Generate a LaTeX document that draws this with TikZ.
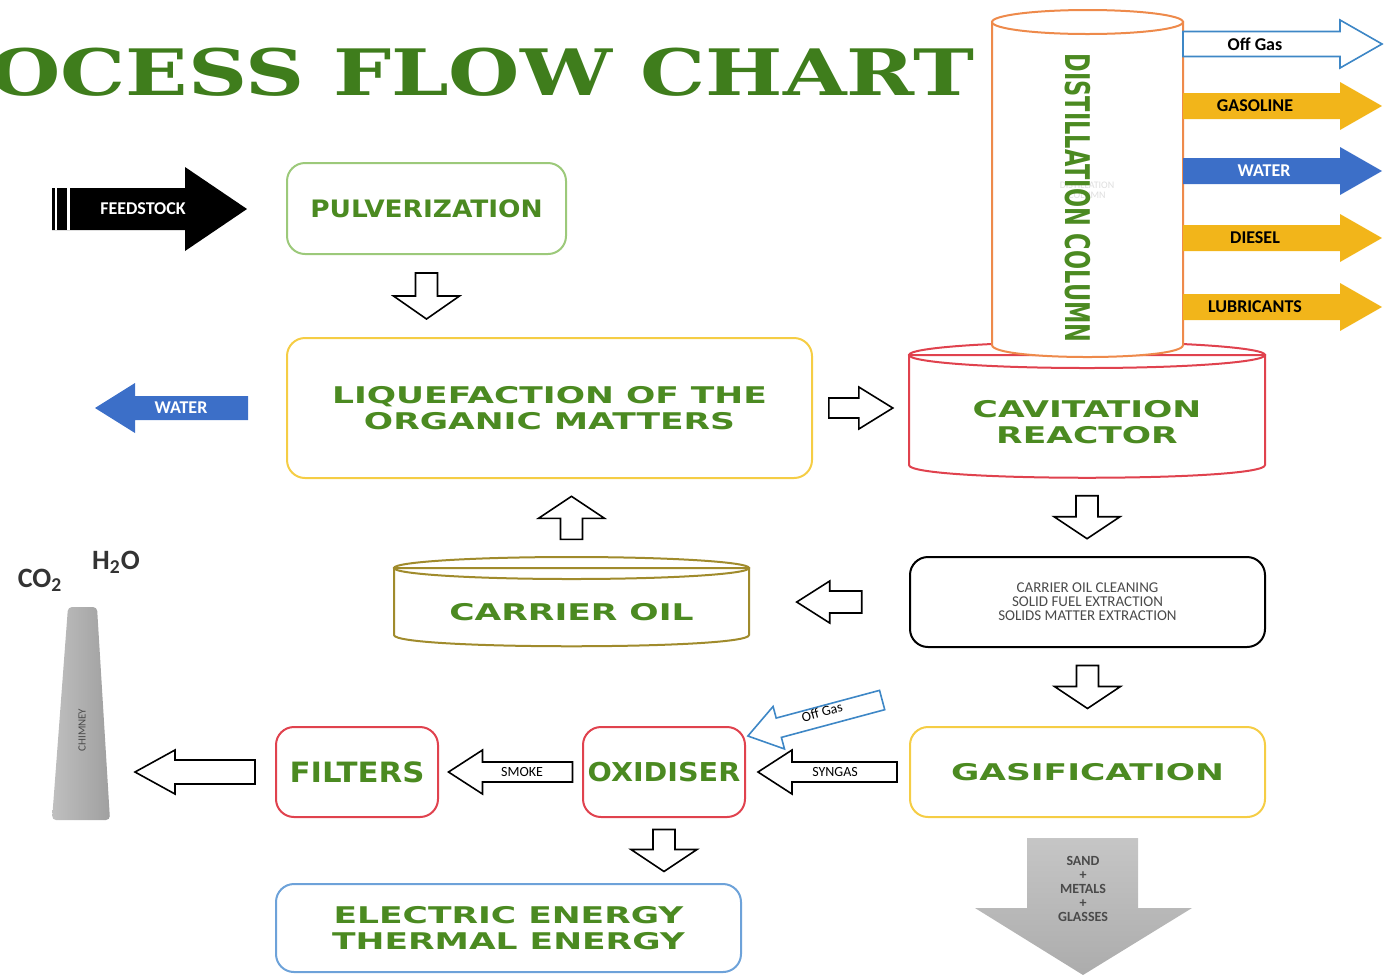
\documentclass[tikz,border=0pt]{standalone}
\usepackage{fontspec}
\setmainfont{Carlito}
\newfontfamily\titlefont[FakeStretch=1.28]{DejaVu Serif}
\newfontfamily\labelfont[FakeStretch=1.5]{DejaVu Sans}
\newfontfamily\labelfontb[FakeStretch=1.1]{DejaVu Sans}
\newfontfamily\columnfont[FakeStretch=0.66]{DejaVu Sans}
\usepackage{tikz}
\usetikzlibrary{positioning}
\definecolor{leaf}{HTML}{4B8A21}
\definecolor{titlegreen}{HTML}{3F7D1C}
\definecolor{pulvgreen}{HTML}{9CC97A}
\definecolor{boxyellow}{HTML}{F5CD45}
\definecolor{cred}{HTML}{E0424E}
\definecolor{colorange}{HTML}{EE8A4B}
\definecolor{olive}{HTML}{A08B2C}
\definecolor{energyblue}{HTML}{6DA2D9}
\definecolor{gold}{HTML}{F2B51A}
\definecolor{arrowblue}{HTML}{3C6FC8}
\definecolor{gasblue}{HTML}{3E87C6}
\definecolor{inkgray}{HTML}{4A4A4A}
\tikzset{
  pics/blockarrow/.style args={#1/#2/#3/#4}{code={
    \path[pic actions] (-#1/2,-#2) -- (#1/2-#4,-#2) -- (#1/2-#4,-#3) -- (#1/2,0)
      -- (#1/2-#4,#3) -- (#1/2-#4,#2) -- (-#1/2,#2) -- cycle;
  }},
}

\begin{document}
\begin{tikzpicture}[x=0.5pt, y=-0.5pt,
    box/.style={draw, line width=1pt, rounded corners=9pt, align=center},
    lbl/.style={font=\labelfont\bfseries\fontsize{11.5}{13}\selectfont, text=leaf, align=center},
    lblb/.style={font=\labelfontb\bfseries\fontsize{#1}{#1}\selectfont},
    tag/.style={font=\bfseries\fontsize{9}{9}\selectfont},
    tiny/.style={font=\fontsize{7.5}{7}\selectfont, align=center},
    hollow/.style={draw=black, fill=white, line width=0.8pt},
  ]
  \useasboundingbox (0,0) rectangle (1390,976);
  \clip (0,0) rectangle (1390,976);
  % Title
  \node[anchor=base east, inner sep=0pt, text=titlegreen,
    font=\titlefont\bfseries\fontsize{32}{32}\selectfont] (title) at (975,95) {PROCESS FLOW CHART};
  % Cavitation reactor (drawn below the column)
  \filldraw[draw=cred, fill=white, line width=1pt] (909,355) -- (909,465)
    .. controls (909,482) and (1265,482) .. (1265,465) -- (1265,355) -- cycle;
  \draw[cred, line width=1pt] (1087,355) ellipse [x radius=178, y radius=13];
  \node[lbl, minimum width=178pt, minimum height=56pt] (reactor) at (1087,422) {CAVITATION\\REACTOR};
  % Distillation column
  \filldraw[draw=colorange, fill=white, line width=1pt] (992,22) -- (992,345)
    .. controls (992,361) and (1183,361) .. (1183,345) -- (1183,22) -- cycle;
  \draw[colorange, line width=1pt, fill=white] (1087.5,22) ellipse [x radius=95.5, y radius=12];
  \node[tiny, text=gray!25, font=\fontsize{5}{5}\selectfont] (ghost) at (1087,190) {DISTILLATION\\COLUMN};
  \node[rotate=-90, text=leaf, font=\columnfont\bfseries\fontsize{17}{17}\selectfont] (column) at (1078,198) {DISTILLATION COLUMN};
  % Column outputs
  \pic[draw=gasblue, fill=white, line width=0.8pt] at (1282.5,44) {blockarrow=199/12.5/24/42};
  \node[tag] (offgas) at (1255,44) {Off Gas};
  \pic[fill=gold] at (1282.5,106) {blockarrow=199/13/24/42};
  \node[tag] (gasoline) at (1255,106) {GASOLINE};
  \pic[fill=arrowblue] at (1282.5,171) {blockarrow=199/13/24/42};
  \node[tag, text=white] (waterout) at (1264,171) {WATER};
  \pic[fill=gold] at (1282.5,238) {blockarrow=199/13/24/42};
  \node[tag] (diesel) at (1255,238) {DIESEL};
  \pic[fill=gold] at (1282.5,307) {blockarrow=199/13/24/42};
  \node[tag] (lubricants) at (1255,307) {LUBRICANTS};
  % Feedstock and water
  \pic[fill=black] at (149.5,209) {blockarrow=195/21/42/62};
  \draw[white, line width=1.2pt] (56,188) -- (56,230);
  \draw[white, line width=1.2pt] (68.5,188) -- (68.5,230);
  \node[tag, text=white] (feedstock) at (143,209) {FEEDSTOCK};
  \pic[fill=arrowblue, rotate=180] at (171.5,408) {blockarrow=153/12/25/40};
  \node[tag, text=white] (waterleft) at (181,408) {WATER};
  % Process boxes
  \node[box, lbl, lblb=12, draw=pulvgreen, minimum width=139.5pt, minimum height=45.5pt] (pulv) at (426.5,208.5) {PULVERIZATION};
  \node[box, lbl, draw=boxyellow, minimum width=262.5pt, minimum height=70pt] (liq) at (549.5,408)
    {LIQUEFACTION OF THE\\ORGANIC MATTERS};
  \node[box, tiny, draw=black, text=inkgray, minimum width=177.5pt, minimum height=45pt] (clean) at (1087.5,602)
    {CARRIER OIL CLEANING\\SOLID FUEL EXTRACTION\\SOLIDS MATTER EXTRACTION};
  \node[box, lbl, draw=boxyellow, minimum width=177.5pt, minimum height=45pt] (gasif) at (1087.5,772) {GASIFICATION};
  \node[box, lbl, lblb=13, draw=cred, minimum width=81pt, minimum height=45pt, inner sep=0pt] (oxid) at (664,772) {OXIDISER};
  \node[box, lbl, lblb=14, draw=cred, minimum width=81pt, minimum height=45pt, inner sep=0pt] (filt) at (357,772) {FILTERS};
  \node[box, lbl, draw=energyblue, minimum width=232.5pt, minimum height=44pt] (energy) at (508.5,928)
    {ELECTRIC ENERGY\\THERMAL ENERGY};
  % Carrier oil tank
  \filldraw[draw=olive, fill=white, line width=1pt] (394,568) -- (394,635)
    .. controls (394,650) and (749,650) .. (749,635) -- (749,568) -- cycle;
  \draw[olive, line width=1pt] (571.5,568) ellipse [x radius=177.5, y radius=11];
  \node[lbl, minimum width=177.5pt, minimum height=55pt] (oil) at (571.5,612) {CARRIER OIL};
  % Chimney
  \shade[left color=gray!50, right color=gray!75, rounded corners=2pt]
    (68,607) -- (97,607) -- (110,820) -- (52,820) -- cycle;
  \node[rotate=90, font=\fontsize{5.5}{5.5}\selectfont, text=inkgray] (chimney) at (82,730) {CHIMNEY};
  \coordinate (chimside) at (115,772);
  \node[font=\bfseries\fontsize{14}{14}\selectfont, text=black!80] (co2) at (40,580) {CO\textsubscript{2}};
  \node[font=\bfseries\fontsize{14}{14}\selectfont, text=black!80] (h2o) at (116,562) {H\textsubscript{2}O};
  % Hollow arrows between the steps
  \path (pulv.south) -- (pulv.south |- liq.north) coordinate[midway] (a1);
  \pic[hollow, rotate=-90] at (a1) {blockarrow=46/11/33/23};
  \path (liq.east) -- (liq.east -| reactor.west) coordinate[midway] (a2);
  \pic[hollow] at (a2) {blockarrow=64/10/21/34};
  \path (oil.north) -- (oil.north |- liq.south) coordinate[midway] (a3);
  \pic[hollow, rotate=90] at (a3) {blockarrow=43/11/33/22};
  \path (reactor.south) -- (reactor.south |- clean.north) coordinate[midway] (a4);
  \pic[hollow, rotate=-90] at (a4) {blockarrow=43/11/33/22};
  \path (clean.west) -- (clean.west -| oil.east) coordinate[midway] (a5);
  \pic[hollow, rotate=180] at (a5) {blockarrow=65/11/21/33};
  \path (clean.south) -- (clean.south |- gasif.north) coordinate[midway] (a6);
  \pic[hollow, rotate=-90] at (a6) {blockarrow=43/11/33/22};
  \path (gasif.west) -- (oxid.east) coordinate[midway] (a7);
  \pic[hollow, rotate=180] at (a7) {blockarrow=139/10/22/34};
  \node[tag, font=\fontsize{7}{7}\selectfont] (syngas) at (835,772) {SYNGAS};
  \path (oxid.west) -- (filt.east) coordinate[midway] (a8);
  \pic[hollow, rotate=180] at (a8) {blockarrow=124/10/22/34};
  \node[tag, font=\fontsize{7}{7}\selectfont] (smoke) at (522,772) {SMOKE};
  \path (filt.west) -- (chimside) coordinate[midway] (a9);
  \pic[hollow, rotate=180] at (a9) {blockarrow=120/12/22/40};
  \path (oxid.south) -- (oxid.south |- energy.north) coordinate[midway] (a10);
  \pic[hollow, rotate=-90] at (a10) {blockarrow=42/11/33/22};
  % Off gas back to the oxidiser
  \pic[draw=gasblue, fill=white, line width=0.8pt, rotate=195] at (815,718) {blockarrow=139/10/22/32};
  \node[rotate=15, font=\fontsize{7}{7}\selectfont] (offgasback) at (822,712) {Off Gas};
  % Solid residues
  \shade[top color=gray!45, bottom color=gray!65] (1027,838) -- (1138,838) -- (1138,908) -- (1192,908)
    -- (1083,975) -- (975,908) -- (1027,908) -- cycle;
  \node[tiny, font=\bfseries\fontsize{7}{7}\selectfont, text=inkgray] (sand) at (1083,889) {SAND\\+\\METALS\\+\\GLASSES};
\end{tikzpicture}
\end{document}
